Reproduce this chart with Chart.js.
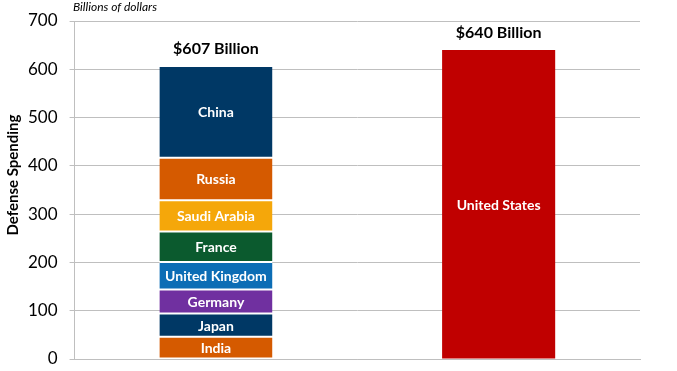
<!DOCTYPE html>
<html>
<head>
<meta charset="utf-8">
<script src="https://cdn.jsdelivr.net/npm/chart.js@4"></script>
<style>
    html, body { margin: 0; padding: 0; background: #fff; }
    #wrap { width: 677px; height: 371px; }
</style>
</head>
<body>
<div id="wrap"><canvas id="defenseChart"></canvas></div>
<script>
// Data
const groups = ['Next 8 countries', 'United States'];
const countries = ['India', 'Japan', 'Germany', 'United Kingdom', 'France', 'Saudi Arabia', 'Russia', 'China'];
const countryValues = [46, 48, 50, 57, 63, 65, 88, 190];
const countryColors = ['#d55a00', '#003865', '#7030a0', '#0c6db5', '#0b5a2e', '#f5a70a', '#d55a00', '#003865'];
const usValue = 640;
const totalLabels = ['$607 Billion', '$640 Billion'];
const yTicks = [0, 100, 200, 300, 400, 500, 600, 700];

const FONT = 'Lato, "Open Sans", sans-serif';

// one dataset per country, all in the same stack
const datasets = countries.map(function(name, i) {
    return {
        label: name,
        data: [countryValues[i], null],
        backgroundColor: countryColors[i],
        borderColor: '#ffffff',
        borderWidth: { top: 1, bottom: 1, left: 0, right: 0 },
        borderSkipped: false,
        stack: 's'
    };
});
datasets.push({
    label: 'United States',
    data: [null, usValue],
    backgroundColor: '#c00000',
    borderWidth: 0,
    stack: 's'
});

// labels inside segments, totals on top, axis title and unit note
const labelPlugin = {
    id: 'labelPlugin',
    afterDatasetsDraw(chart) {
        const ctx = chart.ctx;
        const y = chart.scales.y;
        ctx.save();
        ctx.textAlign = 'center';
        ctx.textBaseline = 'middle';
        ctx.fillStyle = '#ffffff';
        ctx.font = 'bold 14px ' + FONT;
        chart.data.datasets.forEach(function(ds, i) {
            chart.getDatasetMeta(i).data.forEach(function(bar, j) {
                if (ds.data[j] == null) return;
                const mid = (bar.y + bar.base) / 2;
                ctx.fillText(ds.label, bar.x, mid + 1);
            });
        });

        // totals above bars
        ctx.fillStyle = '#000000';
        ctx.font = 'bold 16px ' + FONT;
        const sums = [countryValues.reduce((a, b) => a + b, 0), usValue];
        const x = chart.scales.x;
        sums.forEach(function(s, j) {
            ctx.fillText(totalLabels[j], x.getPixelForValue(j), y.getPixelForValue(s) - 17);
        });

        // unit note
        ctx.textAlign = 'left';
        ctx.font = 'italic 12px ' + FONT;
        ctx.fillText('Billions of dollars', 73, 7);

        // y axis title
        ctx.translate(13, 175);
        ctx.rotate(-Math.PI / 2);
        ctx.textAlign = 'center';
        ctx.font = 'bold 15px ' + FONT;
        ctx.fillText('Defense Spending', 0, 0);
        ctx.restore();
    }
};

new Chart(document.getElementById('defenseChart').getContext('2d'), {
    type: 'bar',
    data: {
        labels: groups,
        datasets: datasets
    },
    options: {
        responsive: true,
        maintainAspectRatio: false,
        animation: false,
        layout: { padding: { top: 21, right: 37, bottom: 12, left: 16 } },
        categoryPercentage: 1,
        barPercentage: 0.4,
        plugins: {
            legend: { display: false },
            tooltip: { enabled: false }
        },
        scales: {
            x: {
                stacked: true,
                ticks: { display: false },
                grid: { display: false, drawTicks: false },
                border: { color: '#bfbfbf' }
            },
            y: {
                stacked: true,
                min: 0,
                max: 700,
                afterBuildTicks: function(axis) {
                    axis.ticks = yTicks.map(v => ({ value: v }));
                },
                afterFit: function(axis) {
                    axis.paddingTop = 0;
                    axis.paddingBottom = 0;
                },
                ticks: {
                    color: '#000000',
                    padding: 12,
                    font: { family: FONT, size: 17 }
                },
                grid: { color: '#bfbfbf', tickLength: 5 },
                border: { color: '#bfbfbf' }
            }
        }
    },
    plugins: [labelPlugin]
});
</script>
</body>
</html>
